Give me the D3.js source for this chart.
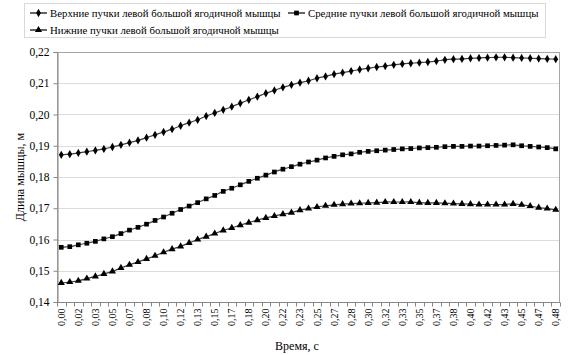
<!DOCTYPE html>
<html><head><meta charset="utf-8">
<script src="https://cdn.jsdelivr.net/npm/d3@7/dist/d3.min.js"></script>
<style>
html,body{margin:0;padding:0;background:#fff;}
svg{display:block;}
</style></head>
<body>
<svg id="chart" width="570" height="355"></svg>
<script>
const times = ["0,00","0,01","0,02","0,03","0,03","0,04","0,05","0,06","0,07","0,08","0,08","0,09",
"0,10","0,11","0,12","0,13","0,13","0,14","0,15","0,16","0,17","0,18","0,18","0,19",
"0,20","0,21","0,22","0,23","0,23","0,24","0,25","0,26","0,27","0,28","0,28","0,29",
"0,30","0,31","0,32","0,33","0,33","0,34","0,35","0,36","0,37","0,38","0,38","0,39",
"0,40","0,41","0,42","0,43","0,43","0,44","0,45","0,46","0,47","0,48","0,48"];

const upper = [0.1871,0.1873,0.1877,0.1881,0.1885,0.1890,0.1896,0.1903,0.1910,0.1917,0.1926,0.1935,
0.1944,0.1953,0.1964,0.1974,0.1983,0.1995,0.2005,0.2015,0.2025,0.2036,0.2047,0.2057,
0.2068,0.2077,0.2087,0.2095,0.2102,0.2108,0.2116,0.2122,0.2129,0.2134,0.2139,0.2144,
0.2148,0.2152,0.2155,0.2159,0.2162,0.2164,0.2166,0.2168,0.2171,0.2175,0.2177,0.2178,
0.2180,0.2181,0.2182,0.2183,0.2183,0.2182,0.2181,0.2180,0.2179,0.2178,0.2177];

const middle = [0.1575,0.1577,0.1583,0.1588,0.1594,0.1602,0.1609,0.1619,0.1630,0.1639,0.1649,0.1661,
0.1672,0.1684,0.1696,0.1707,0.1718,0.1730,0.1741,0.1754,0.1764,0.1775,0.1786,0.1796,
0.1806,0.1816,0.1825,0.1833,0.1841,0.1848,0.1854,0.1861,0.1866,0.1871,0.1874,0.1879,
0.1882,0.1884,0.1886,0.1888,0.1890,0.1891,0.1893,0.1894,0.1895,0.1897,0.1898,0.1898,
0.1899,0.1899,0.1900,0.1901,0.1902,0.1903,0.1900,0.1898,0.1896,0.1894,0.1890];

const lower = [0.1461,0.1464,0.1468,0.1475,0.1482,0.1490,0.1498,0.1509,0.1519,0.1528,0.1538,0.1548,
0.1559,0.1569,0.1578,0.1589,0.1600,0.1609,0.1619,0.1629,0.1637,0.1646,0.1654,0.1662,
0.1669,0.1675,0.1681,0.1686,0.1694,0.1699,0.1704,0.1708,0.1711,0.1713,0.1715,0.1716,
0.1717,0.1718,0.1720,0.1720,0.1720,0.1720,0.1718,0.1717,0.1717,0.1716,0.1715,0.1714,
0.1713,0.1712,0.1712,0.1712,0.1712,0.1714,0.1711,0.1707,0.1702,0.1699,0.1695];

const seriesNames = ["Верхние пучки левой большой ягодичной мышцы",
"Средние пучки левой большой ягодичной мышцы",
"Нижние пучки левой большой ягодичной мышцы"];
const yTicks = [0.14,0.15,0.16,0.17,0.18,0.19,0.20,0.21,0.22];
const yTitle = "Длина мышцы, м";
const xTitle = "Время, с";

const FONT = '"Liberation Serif","Times New Roman",serif';
const svg = d3.select("#chart");
const L = 57, R = 560, T = 52, B = 302;
const idx = d3.range(times.length);
const x = d3.scaleBand().domain(idx).range([L, R]);
const y = d3.scaleLinear().domain([0.14, 0.22]).range([B, T]);
const cx = i => x(i) + x.bandwidth() / 2;
const fmt = v => v.toFixed(2).replace(".", ",");

// gridlines
svg.append("g").selectAll("line").data(yTicks.slice(1)).join("line")
  .attr("x1", L).attr("x2", R).attr("y1", d => Math.round(y(d)) + 0.5).attr("y2", d => Math.round(y(d)) + 0.5)
  .attr("stroke", "#dcdcdc").attr("stroke-width", 1);

// plot border
svg.append("rect").attr("x", L + 0.5).attr("y", T + 0.5).attr("width", R - L - 1).attr("height", B - T)
  .attr("fill", "none").attr("stroke", "#a6a6a6").attr("stroke-width", 1);

// y axis
const yAxis = d3.axisLeft(y).tickValues(yTicks).tickFormat(fmt).tickSize(4).tickPadding(4);
const gy = svg.append("g").attr("transform", `translate(${L + 0.5},0)`).call(yAxis);
gy.select(".domain").attr("stroke", "#868686");
gy.selectAll(".tick line").attr("stroke", "#868686");
gy.selectAll("text").attr("font-size", 11.5).attr("fill", "#000").style("font-family", FONT);

// x axis ticks at category boundaries
const gx = svg.append("g").attr("transform", `translate(0,${B + 0.5})`);
gx.append("line").attr("x1", L).attr("x2", R).attr("stroke", "#868686");
gx.selectAll("line.t").data(d3.range(times.length + 1)).join("line").attr("class", "t")
  .attr("x1", i => Math.round(L + i * x.step()) + 0.5).attr("x2", i => Math.round(L + i * x.step()) + 0.5)
  .attr("y1", 0).attr("y2", 4).attr("stroke", "#868686");
gx.selectAll("text").data(idx.filter(i => i % 2 === 0)).join("text")
  .attr("transform", i => `translate(${cx(i) + 3.5},6) rotate(-90)`)
  .attr("text-anchor", "end").attr("font-size", 10).attr("fill", "#000")
  .style("font-family", FONT)
  .text(i => times[i]);

// axis titles
svg.append("text").attr("transform", `translate(24,${(T + B) / 2 + 0}) rotate(-90)`)
  .attr("text-anchor", "middle").attr("font-size", 12).style("font-family", FONT).text(yTitle);
svg.append("text").attr("x", 297).attr("y", 350)
  .attr("text-anchor", "middle").attr("font-size", 12).style("font-family", FONT).text(xTitle);

// series
const allSeries = [upper, middle, lower];
const shapes = [d3.symbolDiamond, d3.symbolSquare, d3.symbolTriangle];
const sizes = [20, 22, 22];
const line = d3.line().x((d, i) => cx(i)).y(d => y(d)).curve(d3.curveCatmullRom);
allSeries.forEach((s, k) => {
  svg.append("path").datum(s).attr("d", line).attr("fill", "none")
    .attr("stroke", "#404040").attr("stroke-width", 1.2);
  svg.append("g").selectAll("path").data(s).join("path")
    .attr("transform", (d, i) => `translate(${cx(i)},${y(d)})`)
    .attr("d", d3.symbol().type(shapes[k]).size(sizes[k]))
    .attr("fill", "#000");
});

// legend
const lg = svg.append("g");
lg.append("rect").attr("x", 24.5).attr("y", 3.5).attr("width", 521).attr("height", 34)
  .attr("fill", "#fff").attr("stroke", "#d9d9d9");
const legPos = [[30, 13], [288, 13], [30, 30]];
seriesNames.forEach((name, k) => {
  const [lx, ly] = legPos[k];
  lg.append("line").attr("x1", lx).attr("x2", lx + 17).attr("y1", ly).attr("y2", ly)
    .attr("stroke", "#000").attr("stroke-width", 1.2);
  lg.append("path").attr("transform", `translate(${lx + 8.5},${ly})`)
    .attr("d", d3.symbol().type(shapes[k]).size(sizes[k])).attr("fill", "#000");
  lg.append("text").attr("x", lx + 20).attr("y", ly + 4).attr("font-size", 10.8)
    .style("font-family", FONT).text(name);
});
</script>
</body></html>
